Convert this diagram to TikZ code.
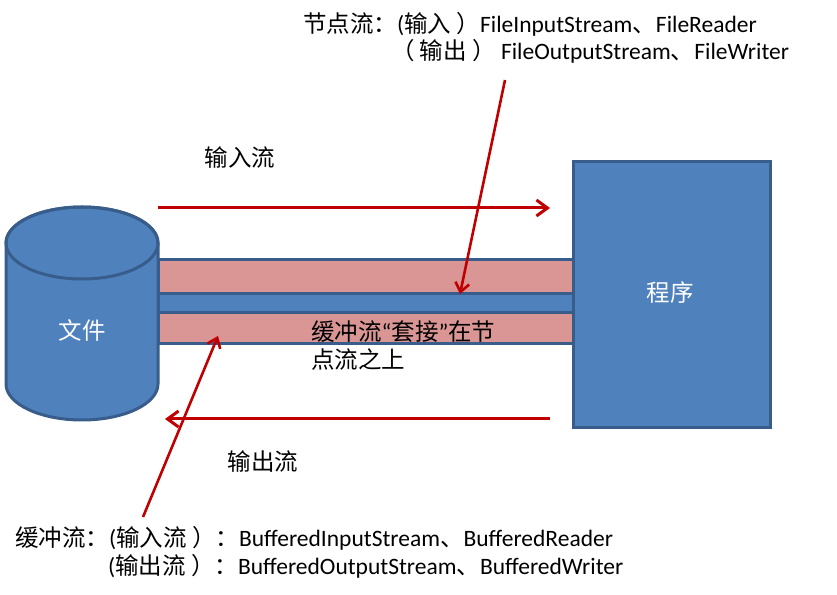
\documentclass[tikz,border=0pt]{standalone}
\usepackage{fontspec}
\setmainfont{Carlito}
\newfontfamily\cjkfont{Noto Sans CJK SC}
\newcommand\cj[1]{{\cjkfont #1}}
\usetikzlibrary{arrows.meta}
\definecolor{fillblue}{RGB}{79,129,189}
\definecolor{edgeblue}{RGB}{56,93,138}
\definecolor{pipepink}{RGB}{217,150,148}
\definecolor{arrowred}{RGB}{192,0,0}
\tikzset{
  txt/.style={inner sep=0pt, font=\fontsize{23.5}{28}\selectfont, text=black},
  wtxt/.style={inner sep=0pt, font=\fontsize{23.5}{28}\selectfont, text=white},
  bluepart/.style={fill=fillblue, draw=edgeblue, line width=3pt},
  pinkpart/.style={fill=pipepink, draw=edgeblue, line width=3pt},
  flowarrow/.style={draw=arrowred, line width=3pt, -{Straight Barb[length=11pt,width=16pt]}},
  ptrarrow/.style={draw=arrowred, line width=2.6pt, -{Straight Barb[length=9pt,width=14pt]}}
}
\begin{document}
\begin{tikzpicture}[x=1pt,y=1pt]
\useasboundingbox (0,0) rectangle (837,594);
% pipes
\path[bluepart] (158,281) rectangle (573,300);
\path[pinkpart] (158,300) rectangle (573,334);
\path[pinkpart] (158,250) rectangle (573,281);
% cylinder (file)
\path[bluepart] (6,351) -- (6,210)
  arc[start angle=180, end angle=360, x radius=76, y radius=36]
  -- (158,351)
  arc[start angle=0, end angle=180, x radius=76, y radius=36] -- cycle;
\draw[edgeblue, line width=3pt] (82,351) ellipse [x radius=76, y radius=36];
\node[wtxt] (file) at (82,264) {\cj{文件}};
% program box
\node[bluepart, minimum width=197pt, minimum height=266pt, inner sep=0pt] (prog) at (671.5,299) {};
\node[wtxt] (progtxt) at (670,301) {\cj{程序}};
% labels
\node[txt] (inlbl) at (240,436) {\cj{输入流}};
\node[txt] (outlbl) at (263,132) {\cj{输出流}};
\node[txt, anchor=west, align=left] (wrap) at (311,248) {\cj{缓冲流}“\cj{套接}”\cj{在节}\\\cj{点流之上}};
\node[txt, anchor=west] (topA) at (303,570) {\cj{节点流：}(\cj{输入 ）}FileInputStream\cj{、}FileReader};
\node[txt, anchor=west] (topB) at (391,543) {\cj{（ 输出 ）} FileOutputStream\cj{、}FileWriter};
\node[txt, anchor=west] (botA) at (15,56) {\cj{缓冲流：}(\cj{输入流 ）：}BufferedInputStream\cj{、}BufferedReader};
\node[txt, anchor=west] (botB) at (108,28) {(\cj{输出流 ）：}BufferedOutputStream\cj{、}BufferedWriter};
% arrows
\coordinate (inS) at (158,386);
\coordinate (inE) at (550,386);
\coordinate (outS) at (550,175);
\coordinate (outE) at (165,175);
\coordinate (nodeS) at (505,514);
\coordinate (nodeE) at (460,300);
\coordinate (bufS) at (143,77);
\coordinate (bufE) at (218,258);
\draw[flowarrow] (inS) -- (inE);
\draw[flowarrow] (outS) -- (outE);
\draw[ptrarrow] (nodeS) -- (nodeE);
\draw[ptrarrow] (bufS) -- (bufE);
\end{tikzpicture}
\end{document}
